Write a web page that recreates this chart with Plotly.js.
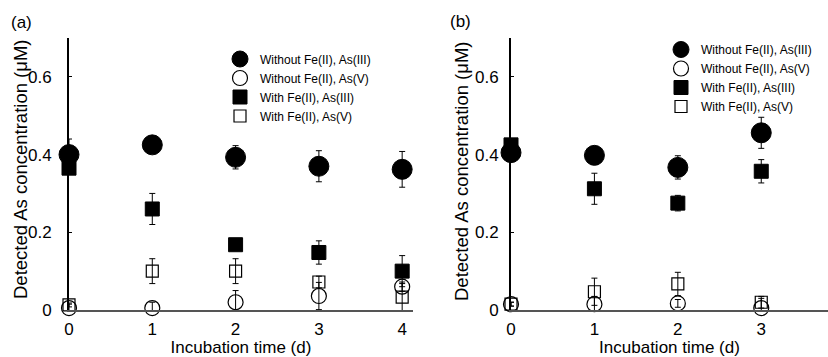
<!DOCTYPE html>
<html><head><meta charset="utf-8">
<script src="https://cdn.plot.ly/plotly-3.0.1.min.js"></script>
<style>html,body{margin:0;padding:0;background:#fff}#chart{width:828px;height:357px}</style>
</head><body><div id="chart"></div>
<script>
// Panel (a)
const daysA = [0, 1, 2, 3, 4];
const aNoFeAs3 = [0.400, 0.425, 0.393, 0.370, 0.362];
const aNoFeAs3Err = [0.040, 0.010, 0.030, 0.040, 0.046];
const aNoFeAs5 = [0.005, 0.005, 0.020, 0.036, 0.060];
const aNoFeAs5Err = [0.010, 0.015, 0.030, 0.035, 0.012];
const aFeAs3 = [0.365, 0.260, 0.168, 0.148, 0.100];
const aFeAs3Err = [0.010, 0.040, 0.012, 0.030, 0.040];
const aFeAs5 = [0.013, 0.100, 0.100, 0.072, 0.033];
const aFeAs5Err = [0.005, 0.032, 0.032, 0.015, 0.035];
// Panel (b)
const daysB = [0, 1, 2, 3];
const bNoFeAs3 = [0.405, 0.398, 0.367, 0.456];
const bNoFeAs3Err = [0.010, 0.010, 0.030, 0.040];
const bNoFeAs5 = [0.015, 0.015, 0.017, 0.005];
const bNoFeAs5Err = [0.005, 0.020, 0.010, 0.025];
const bFeAs3 = [0.425, 0.312, 0.275, 0.357];
const bFeAs3Err = [0.010, 0.040, 0.020, 0.030];
const bFeAs5 = [0.015, 0.047, 0.067, 0.020];
const bFeAs5Err = [0.005, 0.035, 0.030, 0.015];

const seriesNames = ["Without Fe(II), As(III)", "Without Fe(II), As(V)", "With Fe(II), As(III)", "With Fe(II), As(V)"];
const yTickVals = [0, 0.2, 0.4, 0.6];
const yTickText = ["0", "0.2", "0.4", "0.6"];
const yTitle = "Detected As concentration (μM)";
const xTitle = "Incubation time (d)";

const styles = [
  {symbol: "circle", size: 20, color: "#000", line: {color: "#000", width: 1}},
  {symbol: "circle-open", size: 15, color: "#000", line: {color: "#000", width: 1.2}},
  {symbol: "square", size: 14, color: "#000", line: {color: "#000", width: 1}},
  {symbol: "square-open", size: 12, color: "#000", line: {color: "#000", width: 1.2}}
];
const drawOrder = [3, 2, 1, 0];

function makeTraces(x, ys, errs, xa, ya, legendId) {
  const out = [];
  drawOrder.forEach(i => {
    out.push({
      type: "scatter", mode: "markers", x: x, y: ys[i],
      name: seriesNames[i], legendrank: i + 1, legend: legendId,
      xaxis: xa, yaxis: ya, cliponaxis: false,
      marker: styles[i],
      error_y: {type: "data", array: errs[i], visible: true, color: "#000", thickness: 1, width: 3}
    });
  });
  return out;
}

const data = [
  ...makeTraces(daysA, [aNoFeAs3, aNoFeAs5, aFeAs3, aFeAs5], [aNoFeAs3Err, aNoFeAs5Err, aFeAs3Err, aFeAs5Err], "x", "y", "legend"),
  ...makeTraces(daysB, [bNoFeAs3, bNoFeAs5, bFeAs3, bFeAs5], [bNoFeAs3Err, bNoFeAs5Err, bFeAs3Err, bFeAs5Err], "x2", "y2", "legend2")
];

const family = "Liberation Sans, Arial, sans-serif";
const font = {family: family, color: "#000", size: 17};
const titleFontY = {family: family, color: "#000", size: 18.5};
const W = 828, H = 357;
const yDom = [(H - 310) / H, (H - 38) / H];

function xAxis(dom, range, anchor) {
  return {
    domain: dom, range: range, anchor: anchor,
    tickvals: [0, 1, 2, 3, 4], ticktext: ["0", "1", "2", "3", "4"],
    showgrid: false, zeroline: false, showline: true, linecolor: "#555", linewidth: 1.5,
    ticks: "", ticklabelstandoff: 3, tickfont: font,
    title: {text: xTitle, font: font, standoff: 2}
  };
}
function yAxis(anchor, standoff) {
  return {
    domain: yDom, range: [0, 0.7], anchor: anchor,
    tickvals: yTickVals, ticktext: yTickText,
    showgrid: false, zeroline: false, showline: true, linecolor: "#000", linewidth: 2,
    ticks: "inside", ticklen: 3, tickwidth: 1, tickcolor: "#000",
    ticklabelstandoff: standoff, tickfont: font
  };
}

const legendBase = {
  font: {family: family, size: 12, color: "#000"},
  bgcolor: "rgba(0,0,0,0)", borderwidth: 0,
  xanchor: "left", yanchor: "top", itemsizing: "trace", tracegroupgap: 0
};

const layout = {
  width: W, height: H,
  margin: {l: 0, r: 0, t: 0, b: 0},
  paper_bgcolor: "#fff", plot_bgcolor: "#fff",
  font: font, showlegend: true,
  xaxis: xAxis([69 / W, 413 / W], [0, 4.13], "y"),
  yaxis: yAxis("x", 12),
  xaxis2: xAxis([511 / W, 1], [0, 3.8], "y2"),
  yaxis2: yAxis("x2", 7),
  legend: Object.assign({}, legendBase, {x: 220 / W, y: (H - 44.5) / H}),
  legend2: Object.assign({}, legendBase, {x: 661 / W, y: (H - 35) / H}),
  annotations: [
    {text: "(a)", xref: "paper", yref: "paper", x: 9 / W, y: (H - 23) / H, xanchor: "left", yanchor: "middle", showarrow: false, font: font},
    {text: "(b)", xref: "paper", yref: "paper", x: 448 / W, y: (H - 21) / H, xanchor: "left", yanchor: "middle", showarrow: false, font: font},
    {text: yTitle, textangle: -90, xref: "paper", yref: "paper", x: 20 / W, y: (H - 169) / H, xanchor: "center", yanchor: "middle", showarrow: false, font: titleFontY},
    {text: yTitle, textangle: -90, xref: "paper", yref: "paper", x: 461 / W, y: (H - 171) / H, xanchor: "center", yanchor: "middle", showarrow: false, font: titleFontY}
  ]
};

Plotly.newPlot("chart", data, layout, {displayModeBar: false, staticPlot: true});
</script>
</body></html>
